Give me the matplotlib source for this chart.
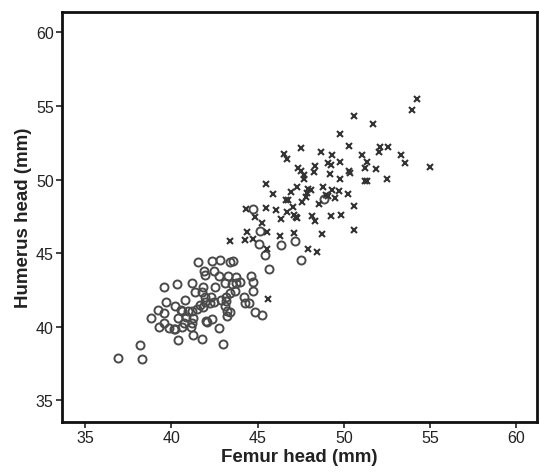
import numpy as np
import matplotlib
matplotlib.use("Agg")
import matplotlib.pyplot as plt

plt.rcParams['font.family'] = ['Liberation Sans', 'DejaVu Sans']

# males (crosses): femur head, humerus head (mm)
male_femur = [54.26, 53.96, 50.62, 51.71, 49.76, 47.53, 50.30, 52.09, 52.59, 48.69,
              52.03, 46.53, 46.71, 49.34, 53.33, 51.08, 51.35, 53.57, 55.00, 47.33,
              47.49, 48.31, 49.06, 49.24, 49.76, 51.25, 51.85, 50.28, 50.38, 48.25,
              49.20, 47.71, 47.67, 49.78, 51.24, 51.35, 52.49, 45.50, 47.31, 47.91,
              48.11, 46.95, 48.80, 49.34, 49.72, 50.22, 45.92, 47.85, 49.06, 48.94,
              49.50, 46.65, 46.75, 47.55, 47.79, 48.55, 46.06, 47.05, 45.46, 44.32,
              50.60, 46.71, 47.09, 47.23, 47.31, 46.37, 44.82, 49.26, 49.84, 48.17,
              48.35, 45.24, 44.40, 45.56, 47.13, 48.76, 50.58, 46.31, 44.26, 44.74,
              43.41, 47.91, 48.47, 45.52, 45.60]
male_humerus = [55.49, 54.74, 54.33, 53.81, 53.09, 52.17, 52.26, 52.23, 52.21, 51.90,
                51.87, 51.74, 51.40, 51.69, 51.69, 51.65, 51.20, 51.13, 50.88, 50.81,
                50.61, 50.90, 51.13, 50.97, 51.17, 50.79, 50.74, 50.59, 50.47, 50.54,
                50.36, 50.29, 50.05, 50.05, 49.93, 49.93, 50.07, 49.73, 49.50, 49.39,
                49.28, 49.19, 49.50, 49.32, 49.21, 49.05, 49.03, 49.12, 48.92, 48.96,
                48.76, 48.60, 48.60, 48.51, 48.80, 48.35, 47.97, 48.15, 48.08, 48.04,
                48.19, 47.81, 47.63, 47.47, 47.40, 47.34, 47.47, 47.52, 47.58, 47.54,
                47.18, 47.07, 46.46, 46.43, 46.41, 46.34, 46.55, 46.18, 45.91, 46.00,
                45.80, 45.28, 45.10, 45.28, 41.87]

# females (circles)
female_femur = [48.84, 44.76, 45.14, 45.06, 46.35, 47.15, 45.40, 47.53, 45.68, 41.55,
                42.35, 42.83, 43.37, 43.57, 41.87, 42.45, 41.97, 42.75, 43.29, 43.73,
                43.98, 44.62, 44.76, 41.22, 43.13, 43.53, 41.83, 42.53, 40.32, 39.56,
                41.39, 41.79, 43.67, 43.37, 44.71, 41.93, 42.27, 43.19, 44.20, 39.66,
                40.78, 41.95, 42.21, 42.49, 42.89, 43.15, 44.24, 44.48, 41.65, 41.85,
                43.13, 40.18, 40.54, 40.64, 40.98, 41.18, 41.49, 43.21, 43.41, 39.22,
                39.54, 38.84, 40.36, 40.84, 41.24, 39.58, 40.70, 41.18, 42.35, 42.01,
                42.05, 43.23, 44.82, 45.28, 39.26, 39.88, 40.12, 40.20, 40.62, 41.14,
                42.75, 40.38, 41.24, 41.77, 43.01, 38.19, 36.89, 38.29, 43.73]
female_humerus = [48.71, 47.99, 46.50, 45.62, 45.55, 45.85, 44.85, 44.56, 43.93, 44.38,
                  44.47, 44.51, 44.40, 44.45, 43.81, 43.81, 43.54, 43.45, 43.43, 43.39,
                  43.02, 43.48, 43.05, 42.98, 42.96, 42.89, 42.71, 42.71, 42.89, 42.69,
                  42.35, 42.35, 42.46, 42.32, 42.44, 42.03, 42.05, 42.01, 42.03, 41.72,
                  41.81, 41.72, 41.63, 41.72, 41.81, 41.76, 41.63, 41.65, 41.47, 41.35,
                  41.40, 41.40, 41.15, 41.11, 41.11, 41.11, 41.22, 41.08, 40.99, 41.13,
                  40.91, 40.61, 40.59, 40.65, 40.59, 40.29, 40.27, 40.27, 40.54, 40.41,
                  40.34, 40.72, 41.02, 40.79, 40.02, 39.91, 39.86, 39.86, 40.02, 40.00,
                  39.89, 39.12, 39.46, 39.19, 38.85, 38.76, 37.90, 37.81, 43.00]

ticks = [35, 40, 45, 50, 55, 60]

fig = plt.figure(figsize=(5.39, 4.77), dpi=100)
ax = fig.add_axes([0.115, 0.113, 0.881, 0.860])

ax.plot(female_femur, female_humerus, linestyle='none', marker='o', markersize=5.8,
        markerfacecolor='none', markeredgecolor='#4a4a4a', markeredgewidth=1.4)
ax.plot(male_femur, male_humerus, linestyle='none', marker='x', markersize=3.8,
        color='#333333', markeredgewidth=1.5)

ax.set_xlim(33.65, 61.2)
ax.set_ylim(33.53, 61.4)
ax.set_xticks(ticks)
ax.set_yticks(ticks)
ax.tick_params(direction='out', length=4, width=1.2, colors='#222222', labelsize=11.5, pad=2)
for s in ax.spines.values():
    s.set_linewidth(2)
    s.set_color('#111111')

ax.set_xlabel('Femur head (mm)', fontsize=13.5, fontweight='bold', color='#222222', labelpad=2)
ax.set_ylabel('Humerus head (mm)', fontsize=13.5, fontweight='bold', color='#222222', labelpad=3)

fig.savefig('out.png', dpi=100)
